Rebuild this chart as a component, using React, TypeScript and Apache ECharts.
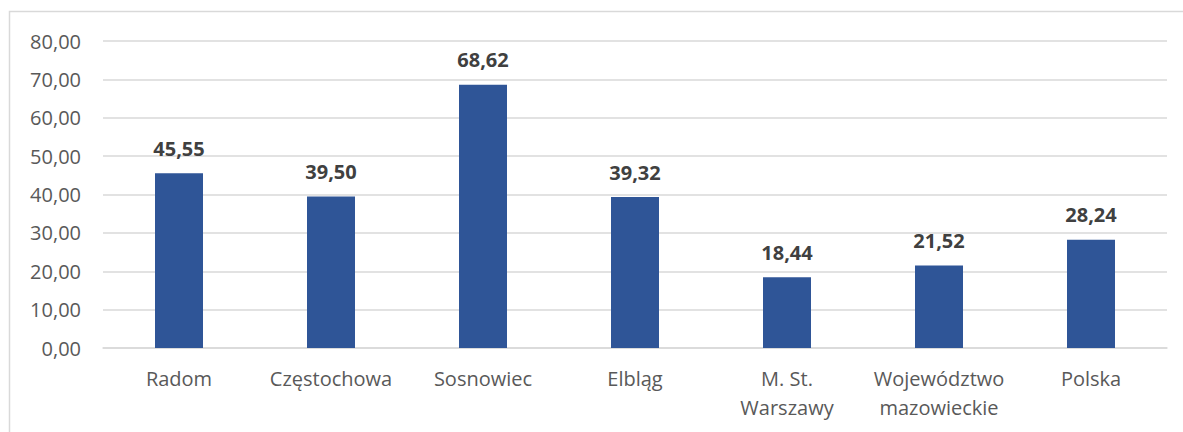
import React, { useEffect, useRef } from "react";
import * as echarts from "echarts";

const categories = [
  "Radom",
  "Częstochowa",
  "Sosnowiec",
  "Elbląg",
  "M. St.\nWarszawy",
  "Województwo\nmazowieckie",
  "Polska",
];
const values = [45.55, 39.5, 68.62, 39.32, 18.44, 21.52, 28.24];
const yMin = 0;
const yMax = 80;
const yStep = 10;

const fmt = (v: number) => v.toFixed(2).replace(".", ",");
const FONT = "'Open Sans', sans-serif";

export default function App() {
  const ref = useRef<HTMLDivElement>(null);
  useEffect(() => {
    if (!ref.current) return;
    const chart = echarts.init(ref.current, undefined, { renderer: "svg" });
    chart.setOption({
      animation: false,
      backgroundColor: "#ffffff",
      textStyle: { fontFamily: FONT },
      graphic: [
        {
          type: "rect",
          silent: true,
          shape: { x: 9.5, y: 11.5, width: 1300, height: 600 },
          style: { fill: "none", stroke: "#D9D9D9", lineWidth: 1.5 },
        },
      ],
      grid: { left: 103, right: 16, top: 41, bottom: 84, containLabel: false },
      xAxis: {
        type: "category",
        data: categories,
        axisLine: { show: true, lineStyle: { color: "#D9D9D9", width: 1.5 } },
        axisTick: { show: false },
        axisLabel: {
          color: "#595959",
          fontFamily: FONT,
          fontSize: 20,
          lineHeight: 29,
          margin: 16,
          interval: 0,
        },
      },
      yAxis: {
        type: "value",
        min: yMin,
        max: yMax,
        interval: yStep,
        axisLine: { show: false },
        axisTick: { show: false },
        splitLine: { lineStyle: { color: "#D9D9D9", width: 1.5 } },
        axisLabel: {
          color: "#595959",
          fontFamily: FONT,
          fontSize: 20,
          margin: 22,
          formatter: (v: number) => fmt(v),
        },
      },
      series: [
        {
          type: "bar",
          data: values,
          barWidth: 48,
          itemStyle: { color: "#2F5597" },
          label: {
            show: true,
            position: "top",
            distance: 15,
            color: "#404040",
            fontFamily: FONT,
            fontWeight: "bold",
            fontSize: 20,
            formatter: (p: any) => fmt(p.value),
          },
        },
      ],
    });
    return () => chart.dispose();
  }, []);
  return (
    <div
      ref={ref}
      style={{ position: "absolute", left: 0, top: 0, width: 1183, height: 432 }}
    />
  );
}
